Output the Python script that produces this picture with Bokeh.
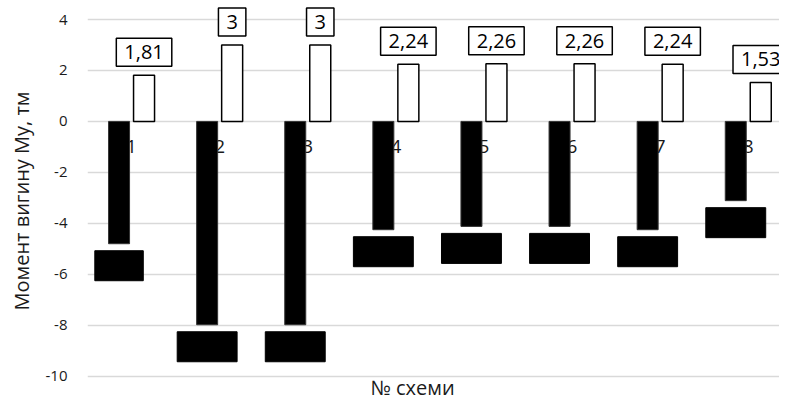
import numpy as np
from bokeh.plotting import figure
from bokeh.models import ColumnDataSource, Range1d, FixedTicker
from bokeh.core.properties import value
from bokeh.embed import file_html
from bokeh.resources import INLINE

# ---- data ----
categories = ["1", "2", "3", "4", "5", "6", "7", "8"]
neg_values = [-4.8, -7.98, -7.98, -4.25, -4.12, -4.12, -4.25, -3.11]
pos_values = [1.81, 3, 3, 2.24, 2.26, 2.26, 2.24, 1.53]
y_ticks = [-10, -8, -6, -4, -2, 0, 2, 4]
y_title = "Момент вигину My, тм"
x_title = "№ схеми"


def fmt(v):
    s = ("%.2f" % v).rstrip("0").rstrip(".")
    return s.replace(".", ",")


FONT = "Open Sans"
TXT = "#1a1a1a"

# ---- layout constants (pixels) ----
W, H = 779, 401
LEFT = 87
PX_X = 88.1          # pixels per category
PX_Y = 25.48         # pixels per y unit
TOP_PAD = 19         # pixels from canvas top to the "4" gridline

x_lo = 0.5
x_hi = x_lo + (W - LEFT) / PX_X
y_hi = max(y_ticks) + TOP_PAD / PX_Y
y_lo = y_hi - H / PX_Y

idx = np.arange(1, len(categories) + 1)
off = 12.5 / PX_X
bw = 21 / PX_X

src_neg = ColumnDataSource(dict(x=idx - off, top=neg_values, lab=[fmt(v) for v in neg_values]))
src_pos = ColumnDataSource(dict(x=idx + off, top=pos_values, lab=[fmt(v) for v in pos_values]))
src_cat = ColumnDataSource(dict(x=idx, y=[0] * len(categories), lab=categories))

p = figure(width=W, height=H, output_backend="svg", toolbar_location=None,
           x_range=Range1d(x_lo, x_hi), y_range=Range1d(y_lo, y_hi))
p.min_border_left = LEFT
p.min_border_right = 0
p.min_border_top = 0
p.min_border_bottom = 0
p.outline_line_color = None
p.background_fill_color = "white"
p.border_fill_color = "white"

p.xgrid.visible = False
p.ygrid.grid_line_color = "#d9d9d9"
p.ygrid.grid_line_width = 1.3
p.xaxis.visible = False

ya = p.yaxis[0]
ya.ticker = FixedTicker(ticks=y_ticks)
ya.major_label_overrides = {t: str(t) for t in y_ticks}
ya.axis_line_color = None
ya.major_tick_line_color = None
ya.minor_tick_line_color = None
ya.major_tick_in = 0
ya.major_tick_out = 0
ya.major_label_standoff = 20
ya.major_label_text_font = FONT
ya.major_label_text_font_size = "15px"
ya.major_label_text_color = TXT
ya.axis_label = y_title
ya.axis_label_text_font = FONT
ya.axis_label_text_font_size = "20px"
ya.axis_label_text_font_style = "normal"
ya.axis_label_text_color = TXT
ya.axis_label_standoff = 8

# category labels (drawn beneath bars)
p.text(x="x", y="y", text="lab", source=src_cat, text_font=value(FONT),
       text_font_size="19px", text_color=TXT, text_align="center",
       text_baseline="middle", y_offset=25)

# bars
p.vbar(x="x", top="top", bottom=0, width=bw, source=src_neg,
       fill_color="black", line_color="#333333", line_width=1)
p.vbar(x="x", top="top", bottom=0, width=bw, source=src_pos,
       fill_color="white", line_color="black", line_width=1.5)

# data labels
p.text(x="x", y="top", text="lab", source=src_pos, text_font=value(FONT),
       text_font_size="20px", text_color="black", text_align="center",
       text_baseline="middle", y_offset=-23,
       background_fill_color="white", border_line_color="black",
       border_line_width=1.5, padding=dict(left=8, right=8, top=7, bottom=7))
p.text(x="x", y="top", text="lab", source=src_neg, text_font=value(FONT),
       text_font_size="20px", text_color="black", text_align="center",
       text_baseline="middle", y_offset=22,
       background_fill_color="black", border_line_color="black",
       border_line_width=1, padding=dict(left=7, right=7, top=8, bottom=8))

# x-axis title, placed below the -10 gridline
p.text(x=[x_lo + (413 - 88) / PX_X], y=[y_hi - 387 / PX_Y], text=[x_title],
       text_font=value(FONT), text_font_size="20px", text_color=TXT,
       text_align="center", text_baseline="middle")

open("out.html", "w").write(file_html(p, INLINE))
